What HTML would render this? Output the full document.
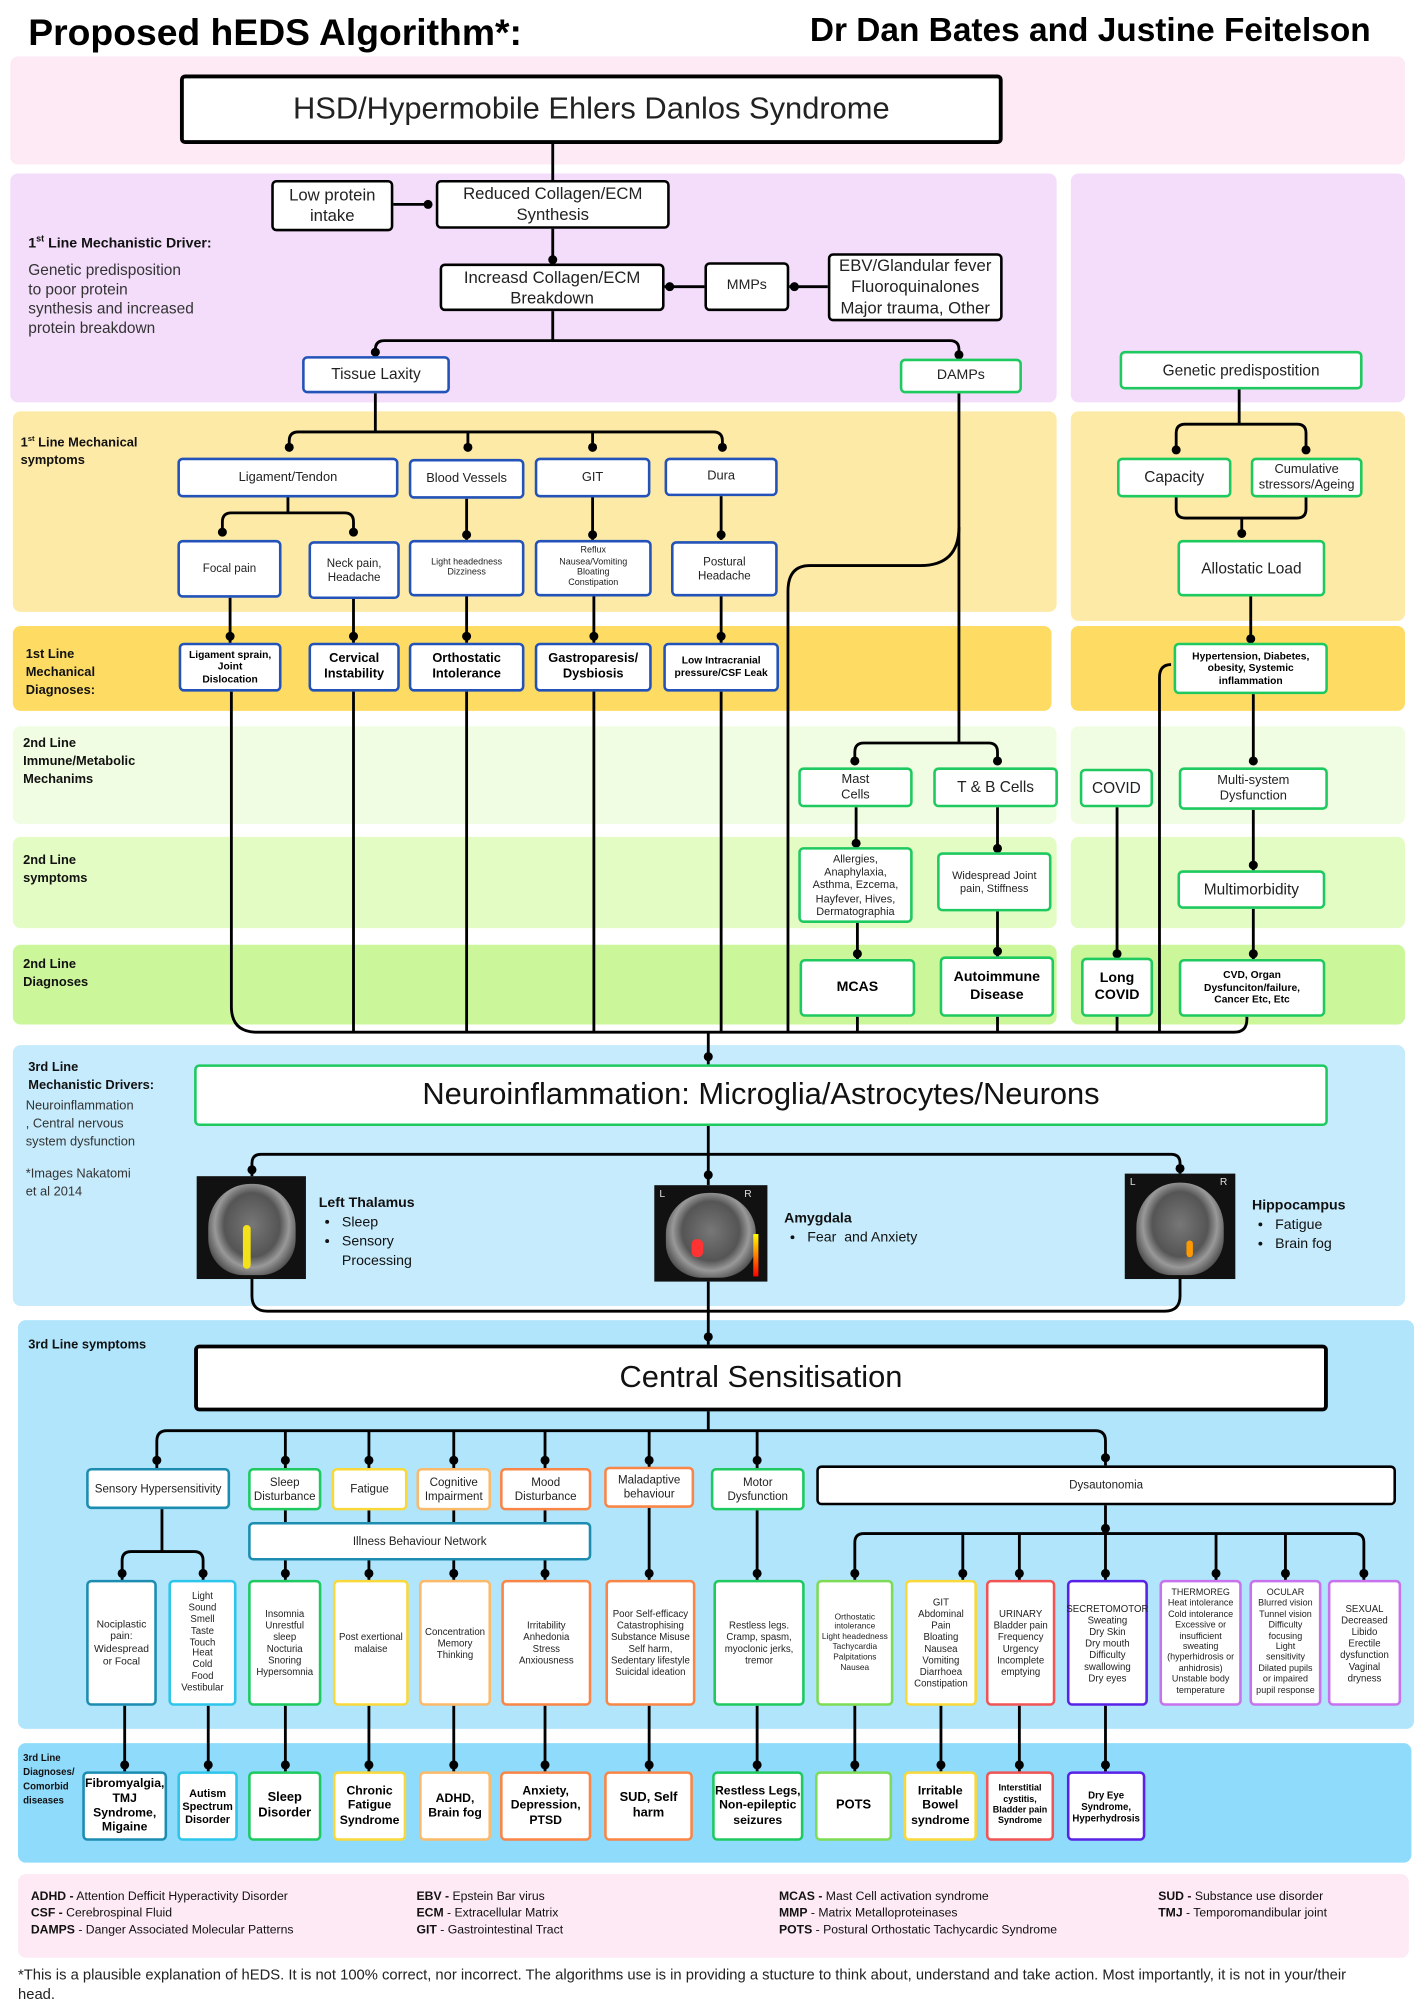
<!DOCTYPE html>
<html><head><meta charset="utf-8"><style>
html,body{margin:0;padding:0;background:#fff;}
body{width:1414px;height:2000px;overflow:hidden;position:relative;font-family:"Liberation Sans",sans-serif;}
#c{position:absolute;left:0;top:0;width:1100px;height:1556px;transform:scale(1.28545);transform-origin:0 0;}
.r{position:absolute;border-radius:6px;}
.b{position:absolute;box-sizing:border-box;display:flex;align-items:center;justify-content:center;text-align:center;background:#fff;border:2px solid #000;border-radius:4px;line-height:1.2;color:#222;}
.t{position:absolute;color:#111;line-height:1.25;}
.k{border-color:#000}
.bl{border-color:#2353b8}
.g{border-color:#1ec95f}
.tl{border-color:#1c8db0}
.cy{border-color:#2ec5ea}
.ye{border-color:#f8d83a}
.lo{border-color:#fbb96a}
.or{border-color:#f98546}
.lg{border-color:#7edb55}
.rd{border-color:#f05454}
.pu{border-color:#5a22e6}
.vi{border-color:#c872ee}
.brain{position:absolute;background:#111;overflow:hidden;}
.brain div{position:absolute;left:10%;top:8%;width:80%;height:88%;border-radius:48% 48% 40% 40%;background:radial-gradient(ellipse at 50% 45%,#777 0%,#555 45%,#999 60%,#444 80%,#222 100%);}
ul{margin:0;padding-left:18px;}
</style></head><body><div id="c">

<!-- bands -->
<div class="r" style="left:8px;top:44px;width:1085px;height:84px;background:#fdeaf4"></div>
<div class="r" style="left:8px;top:135px;width:814px;height:178px;background:#f3ddfa"></div>
<div class="r" style="left:833px;top:135px;width:260px;height:178px;background:#f3ddfa"></div>
<div class="r" style="left:10px;top:320px;width:812px;height:156px;background:#feeaa7"></div>
<div class="r" style="left:833px;top:320px;width:260px;height:163px;background:#feeaa7"></div>
<div class="r" style="left:10px;top:487px;width:808px;height:66px;background:#fedc63"></div>
<div class="r" style="left:833px;top:487px;width:260px;height:66px;background:#fedc63"></div>
<div class="r" style="left:10px;top:565px;width:812px;height:76px;background:#f1fde2"></div>
<div class="r" style="left:833px;top:565px;width:260px;height:76px;background:#f1fde2"></div>
<div class="r" style="left:10px;top:651px;width:812px;height:71px;background:#e3fcc3"></div>
<div class="r" style="left:833px;top:651px;width:260px;height:71px;background:#e3fcc3"></div>
<div class="r" style="left:10px;top:735px;width:812px;height:62px;background:#cbf79a"></div>
<div class="r" style="left:833px;top:735px;width:260px;height:62px;background:#cbf79a"></div>
<div class="r" style="left:10px;top:813px;width:1083px;height:203px;background:#c5ebfc"></div>
<div class="r" style="left:14px;top:1027px;width:1086px;height:318px;background:#b0e5fc"></div>
<div class="r" style="left:14px;top:1356px;width:1084px;height:93px;background:#8fdbfc"></div>
<div class="r" style="left:14px;top:1458px;width:1082px;height:65px;background:#fdeaf4"></div>

<!-- titles -->
<div class="t" style="left:22px;top:8px;font-size:29px;font-weight:bold;color:#000">Proposed hEDS Algorithm*:</div>
<div class="t" style="left:630px;top:7px;font-size:26px;font-weight:bold;color:#000">Dr Dan Bates and Justine Feitelson</div>

<!-- lines -->
<svg style="position:absolute;left:0;top:0" width="1100" height="1556" fill="none" stroke="#000" stroke-width="2.2">
<path d="M430 112V140M306 159H333M430 178V205M517 223H548M614 223H644M430 242V265"/>
<path d="M292 277V272Q292 265 299 265H739Q746 265 746 272V279"/>
<path d="M292 306V336M225 350V343Q225 336 232 336H555Q562 336 562 343V350M364 336V350M461 336V350"/>
<path d="M224 387V399M173 416V406Q173 399 180 399H268Q275 399 275 406V416M363 388V420M461 387V420M561 386V420"/>
<path d="M179 465V500M275 466V500M363 464V500M462 464V500M561 464V500"/>
<path d="M746 306V578M665 594V585Q665 578 672 578H769Q776 578 776 585V594"/>
<path d="M746 410Q746 440 716 440H630Q613 440 613 460V803"/>
<path d="M666 628V659M776 628V663M667 718V746M776 709V744M869 628V745"/>
<path d="M964 303V330M915 352V337Q915 330 922 330H1009Q1016 330 1016 337V352M915 387V396Q915 403 922 403H1009Q1016 403 1016 396V387M966 403V418"/>
<path d="M973 464V500M975 540V595M975 630V677M975 707V746M911 517Q902 517 902 527V803"/>
<path d="M180 538V783Q180 803 200 803H960Q970 803 970 793V791M275 538V803M363 538V803M462 538V803M561 538V803M667 791V803M776 791V803M869 791V803"/>
<path d="M551 803V828M551 876V898M196 915V905Q196 898 203 898H911Q918 898 918 905V913M551 898V922"/>
<path d="M196 995V1008Q196 1020 208 1020H906Q918 1020 918 1008V995M551 997V1046"/>
<path d="M551 1098V1113M122 1142V1121Q122 1113 130 1113H852Q860 1113 860 1121V1140M222 1113V1142M287 1113V1142M353 1113V1142M424 1113V1142M505 1113V1142M589 1113V1142"/>
<path d="M126 1174V1207M95 1229V1214Q95 1207 102 1207H151Q158 1207 158 1214V1229"/>
<path d="M222 1175V1184M287 1175V1184M353 1175V1184M424 1175V1184M222 1214V1229M287 1214V1229M353 1214V1229M424 1214V1229M505 1173V1229M589 1175V1229"/>
<path d="M860 1171V1193M665 1229V1200Q665 1193 672 1193H1054Q1061 1193 1061 1200V1229M749 1193V1229M793 1193V1229M860 1193V1229M946 1193V1229M1000 1193V1229"/>
<path d="M97 1327V1378M162 1327V1378M222 1327V1378M287 1327V1378M353 1327V1378M424 1327V1378M505 1327V1378M589 1327V1378M665 1327V1378M732 1327V1378M793 1327V1378M860 1327V1378"/>
<g fill="#000" stroke="none">
<circle cx="333" cy="159" r="3.5"/><circle cx="430" cy="202" r="3.5"/><circle cx="521" cy="223" r="3.5"/><circle cx="618" cy="223" r="3.5"/>
<circle cx="292" cy="274" r="3.5"/><circle cx="746" cy="276" r="3.5"/>
<circle cx="225" cy="348" r="3.5"/><circle cx="364" cy="348" r="3.5"/><circle cx="461" cy="348" r="3.5"/><circle cx="562" cy="348" r="3.5"/>
<circle cx="173" cy="414" r="3.5"/><circle cx="275" cy="414" r="3.5"/><circle cx="363" cy="416" r="3.5"/><circle cx="461" cy="416" r="3.5"/><circle cx="561" cy="416" r="3.5"/>
<circle cx="179" cy="495" r="3.5"/><circle cx="275" cy="495" r="3.5"/><circle cx="363" cy="495" r="3.5"/><circle cx="462" cy="495" r="3.5"/><circle cx="561" cy="495" r="3.5"/>
<circle cx="665" cy="592" r="3.5"/><circle cx="776" cy="592" r="3.5"/><circle cx="666" cy="656" r="3.5"/><circle cx="776" cy="660" r="3.5"/><circle cx="667" cy="742" r="3.5"/><circle cx="776" cy="740" r="3.5"/><circle cx="869" cy="742" r="3.5"/>
<circle cx="915" cy="350" r="3.5"/><circle cx="1016" cy="350" r="3.5"/><circle cx="966" cy="415" r="3.5"/><circle cx="973" cy="497" r="3.5"/><circle cx="975" cy="592" r="3.5"/><circle cx="975" cy="673" r="3.5"/><circle cx="975" cy="742" r="3.5"/>
<circle cx="551" cy="822" r="3.5"/><circle cx="196" cy="910" r="3.5"/><circle cx="551" cy="914" r="3.5"/><circle cx="918" cy="909" r="3.5"/><circle cx="551" cy="1040" r="3.5"/>
<circle cx="122" cy="1136" r="3.5"/><circle cx="222" cy="1136" r="3.5"/><circle cx="287" cy="1136" r="3.5"/><circle cx="353" cy="1136" r="3.5"/><circle cx="424" cy="1136" r="3.5"/><circle cx="505" cy="1136" r="3.5"/><circle cx="589" cy="1136" r="3.5"/><circle cx="860" cy="1134" r="3.5"/>
<circle cx="95" cy="1224" r="3.5"/><circle cx="158" cy="1224" r="3.5"/><circle cx="222" cy="1224" r="3.5"/><circle cx="287" cy="1224" r="3.5"/><circle cx="353" cy="1224" r="3.5"/><circle cx="424" cy="1224" r="3.5"/><circle cx="505" cy="1224" r="3.5"/><circle cx="589" cy="1224" r="3.5"/>
<circle cx="860" cy="1189" r="3.5"/><circle cx="665" cy="1224" r="3.5"/><circle cx="749" cy="1224" r="3.5"/><circle cx="793" cy="1224" r="3.5"/><circle cx="860" cy="1224" r="3.5"/><circle cx="946" cy="1224" r="3.5"/><circle cx="1000" cy="1224" r="3.5"/><circle cx="1061" cy="1224" r="3.5"/>
<circle cx="97" cy="1373" r="3.5"/><circle cx="162" cy="1373" r="3.5"/><circle cx="222" cy="1373" r="3.5"/><circle cx="287" cy="1373" r="3.5"/><circle cx="353" cy="1373" r="3.5"/><circle cx="424" cy="1373" r="3.5"/><circle cx="505" cy="1373" r="3.5"/><circle cx="589" cy="1373" r="3.5"/><circle cx="665" cy="1373" r="3.5"/><circle cx="732" cy="1373" r="3.5"/><circle cx="793" cy="1373" r="3.5"/><circle cx="860" cy="1373" r="3.5"/>
</g>
</svg>

<!-- top section -->
<div class="b k" style="left:140px;top:58px;width:640px;height:54px;font-size:24px;border-width:3px">HSD/Hypermobile Ehlers Danlos Syndrome</div>
<div class="b k" style="left:211px;top:140px;width:95px;height:40px;font-size:13px">Low protein<br>intake</div>
<div class="b k" style="left:339px;top:140px;width:182px;height:38px;font-size:13px">Reduced Collagen/ECM<br>Synthesis</div>
<div class="b k" style="left:342px;top:205px;width:175px;height:37px;font-size:13px">Increasd Collagen/ECM<br>Breakdown</div>
<div class="b k" style="left:548px;top:204px;width:66px;height:38px;font-size:11px">MMPs</div>
<div class="b k" style="left:644px;top:197px;width:136px;height:53px;font-size:13px;line-height:1.25">EBV/Glandular fever<br>Fluoroquinalones<br>Major trauma, Other</div>
<div class="t" style="left:22px;top:183px;font-size:11px;font-weight:bold">1<sup style="font-size:7px">st</sup> Line Mechanistic Driver:</div>
<div class="t" style="left:22px;top:203px;font-size:12px;line-height:15px;color:#333">Genetic predisposition<br>to poor protein<br>synthesis and increased<br>protein breakdown</div>
<div class="b bl" style="left:235px;top:277px;width:115px;height:29px;font-size:12px">Tissue Laxity</div>
<div class="b g" style="left:700px;top:279px;width:95px;height:27px;font-size:11px">DAMPs</div>
<div class="b g" style="left:871px;top:273px;width:189px;height:30px;font-size:12px">Genetic predispostition</div>

<!-- 1st line symptoms -->
<div class="t" style="left:16px;top:335px;font-size:10px;font-weight:bold;line-height:14px">1<sup style="font-size:6px">st</sup> Line Mechanical<br>symptoms</div>
<div class="b bl" style="left:138px;top:356px;width:172px;height:31px;font-size:10px">Ligament/Tendon</div>
<div class="b bl" style="left:318px;top:357px;width:90px;height:31px;font-size:10px">Blood Vessels</div>
<div class="b bl" style="left:416px;top:356px;width:90px;height:31px;font-size:10px">GIT</div>
<div class="b bl" style="left:517px;top:356px;width:88px;height:30px;font-size:10px">Dura</div>
<div class="b bl" style="left:138px;top:420px;width:81px;height:45px;font-size:9px">Focal pain</div>
<div class="b bl" style="left:240px;top:421px;width:71px;height:45px;font-size:9px">Neck pain,<br>Headache</div>
<div class="b bl" style="left:318px;top:420px;width:90px;height:44px;font-size:7px">Light headedness<br>Dizziness</div>
<div class="b bl" style="left:416px;top:420px;width:91px;height:44px;font-size:7px">Reflux<br>Nausea/Vomiting<br>Bloating<br>Constipation</div>
<div class="b bl" style="left:522px;top:421px;width:83px;height:43px;font-size:9px">Postural<br>Headache</div>
<div class="b g" style="left:869px;top:356px;width:89px;height:31px;font-size:12px">Capacity</div>
<div class="b g" style="left:973px;top:356px;width:87px;height:31px;font-size:10px">Cumulative<br>stressors/Ageing</div>
<div class="b g" style="left:916px;top:420px;width:115px;height:44px;font-size:12px">Allostatic Load</div>

<!-- 1st line diagnoses -->
<div class="t" style="left:20px;top:503px;font-size:10px;font-weight:bold;line-height:14px">1st Line<br>Mechanical<br>Diagnoses:</div>
<div class="b bl" style="left:139px;top:500px;width:80px;height:38px;font-size:8px;font-weight:bold;color:#000">Ligament sprain,<br>Joint<br>Dislocation</div>
<div class="b bl" style="left:240px;top:500px;width:71px;height:38px;font-size:10px;font-weight:bold;color:#000">Cervical<br>Instability</div>
<div class="b bl" style="left:318px;top:500px;width:90px;height:38px;font-size:10px;font-weight:bold;color:#000">Orthostatic<br>Intolerance</div>
<div class="b bl" style="left:416px;top:500px;width:91px;height:38px;font-size:10px;font-weight:bold;color:#000">Gastroparesis/<br>Dysbiosis</div>
<div class="b bl" style="left:516px;top:500px;width:90px;height:38px;font-size:8px;font-weight:bold;color:#000">Low Intracranial<br>pressure/CSF Leak</div>
<div class="b g" style="left:913px;top:500px;width:120px;height:40px;font-size:8px;font-weight:bold;color:#000">Hypertension, Diabetes,<br>obesity, Systemic<br>inflammation</div>

<!-- 2nd line -->
<div class="t" style="left:18px;top:572px;font-size:10px;font-weight:bold;line-height:14px">2nd Line<br>Immune/Metabolic<br>Mechanims</div>
<div class="t" style="left:18px;top:663px;font-size:10px;font-weight:bold;line-height:14px">2nd Line<br>symptoms</div>
<div class="t" style="left:18px;top:744px;font-size:10px;font-weight:bold;line-height:14px">2nd Line<br>Diagnoses</div>
<div class="b g" style="left:621px;top:597px;width:89px;height:31px;font-size:10px">Mast<br>Cells</div>
<div class="b g" style="left:726px;top:597px;width:97px;height:31px;font-size:12px">T &amp; B Cells</div>
<div class="b g" style="left:840px;top:598px;width:57px;height:30px;font-size:12px">COVID</div>
<div class="b g" style="left:917px;top:597px;width:116px;height:33px;font-size:10px">Multi-system<br>Dysfunction</div>
<div class="b g" style="left:621px;top:659px;width:89px;height:59px;font-size:8.5px">Allergies,<br>Anaphylaxia,<br>Asthma, Ezcema,<br>Hayfever, Hives,<br>Dermatographia</div>
<div class="b g" style="left:729px;top:663px;width:89px;height:46px;font-size:8.5px">Widespread Joint<br>pain, Stiffness</div>
<div class="b g" style="left:916px;top:677px;width:115px;height:30px;font-size:12px">Multimorbidity</div>
<div class="b g" style="left:622px;top:746px;width:90px;height:45px;font-size:11px;font-weight:bold;color:#000">MCAS</div>
<div class="b g" style="left:731px;top:744px;width:89px;height:47px;font-size:11px;font-weight:bold;color:#000">Autoimmune<br>Disease</div>
<div class="b g" style="left:841px;top:745px;width:56px;height:46px;font-size:11px;font-weight:bold;color:#000">Long<br>COVID</div>
<div class="b g" style="left:917px;top:746px;width:114px;height:45px;font-size:8px;font-weight:bold;color:#000">CVD, Organ<br>Dysfunciton/failure,<br>Cancer Etc, Etc</div>

<!-- 3rd line mechanistic -->
<div class="t" style="left:22px;top:824px;font-size:10px;font-weight:bold;line-height:14px">3rd Line<br>Mechanistic Drivers:</div>
<div class="t" style="left:20px;top:854px;font-size:10px;line-height:14px;color:#333">Neuroinflammation<br>, Central nervous<br>system dysfunction</div>
<div class="t" style="left:20px;top:907px;font-size:10px;line-height:14px;color:#333">*Images Nakatomi<br>et al 2014</div>
<div class="b g" style="left:151px;top:828px;width:882px;height:48px;font-size:24px;color:#111">Neuroinflammation: Microglia/Astrocytes/Neurons</div>
<div class="brain" style="left:153px;top:915px;width:85px;height:80px"><div></div><span style="position:absolute;left:36px;top:38px;width:6px;height:34px;background:#f5e11a;border-radius:3px"></span></div>
<div class="brain" style="left:509px;top:922px;width:88px;height:75px"><div></div><span style="position:absolute;left:29px;top:42px;width:9px;height:14px;background:#f33;border-radius:4px"></span><span style="position:absolute;left:77px;top:38px;width:4px;height:33px;background:linear-gradient(#ff0,#f00)"></span><span style="position:absolute;left:4px;top:2px;color:#ddd;font-size:8px">L</span><span style="position:absolute;left:70px;top:2px;color:#ddd;font-size:8px">R</span></div>
<div class="brain" style="left:875px;top:913px;width:86px;height:82px"><div></div><span style="position:absolute;left:48px;top:52px;width:5px;height:13px;background:#f90;border-radius:3px"></span><span style="position:absolute;left:4px;top:2px;color:#ddd;font-size:8px">L</span><span style="position:absolute;left:74px;top:2px;color:#ddd;font-size:8px">R</span></div>
<div class="t" style="left:248px;top:929px;font-size:11px;line-height:15px"><b>Left Thalamus</b><ul><li>Sleep</li><li>Sensory<br>Processing</li></ul></div>
<div class="t" style="left:610px;top:941px;font-size:11px;line-height:15px"><b>Amygdala</b><ul><li>Fear &nbsp;and Anxiety</li></ul></div>
<div class="t" style="left:974px;top:931px;font-size:11px;line-height:15px"><b>Hippocampus</b><ul><li>Fatigue</li><li>Brain fog</li></ul></div>

<!-- 3rd line symptoms -->
<div class="t" style="left:22px;top:1041px;font-size:10px;font-weight:bold">3rd Line symptoms</div>
<div class="b k" style="left:151px;top:1046px;width:882px;height:52px;font-size:24px;color:#111;border-width:3px">Central Sensitisation</div>
<div class="b tl" style="left:67px;top:1142px;width:112px;height:32px;font-size:9px">Sensory Hypersensitivity</div>
<div class="b g" style="left:193px;top:1142px;width:57px;height:33px;font-size:9px">Sleep<br>Disturbance</div>
<div class="b ye" style="left:258px;top:1142px;width:59px;height:33px;font-size:9px">Fatigue</div>
<div class="b lo" style="left:324px;top:1142px;width:58px;height:33px;font-size:9px">Cognitive<br>Impairment</div>
<div class="b or" style="left:389px;top:1142px;width:71px;height:33px;font-size:9px">Mood<br>Disturbance</div>
<div class="b or" style="left:470px;top:1141px;width:70px;height:32px;font-size:9px">Maladaptive<br>behaviour</div>
<div class="b g" style="left:553px;top:1142px;width:73px;height:33px;font-size:9px">Motor<br>Dysfunction</div>
<div class="b k" style="left:635px;top:1140px;width:451px;height:31px;font-size:9px">Dysautonomia</div>
<div class="b tl" style="left:193px;top:1184px;width:267px;height:30px;font-size:9px">Illness Behaviour Network</div>

<div class="b tl" style="left:67px;top:1229px;width:55px;height:98px;font-size:8px">Nociplastic<br>pain:<br>Widespread<br>or Focal</div>
<div class="b cy" style="left:131px;top:1229px;width:53px;height:98px;font-size:7.5px;line-height:1.18">Light<br>Sound<br>Smell<br>Taste<br>Touch<br>Heat<br>Cold<br>Food<br>Vestibular</div>
<div class="b g" style="left:193px;top:1229px;width:57px;height:98px;font-size:7.5px">Insomnia<br>Unrestful<br>sleep<br>Nocturia<br>Snoring<br>Hypersomnia</div>
<div class="b ye" style="left:259px;top:1229px;width:59px;height:98px;font-size:7.5px">Post exertional<br>malaise</div>
<div class="b lo" style="left:326px;top:1229px;width:56px;height:98px;font-size:7.5px">Concentration<br>Memory<br>Thinking</div>
<div class="b or" style="left:390px;top:1229px;width:70px;height:98px;font-size:7.5px">Irritability<br>Anhedonia<br>Stress<br>Anxiousness</div>
<div class="b or" style="left:471px;top:1229px;width:70px;height:98px;font-size:7.5px">Poor Self-efficacy<br>Catastrophising<br>Substance Misuse<br>Self harm,<br>Sedentary lifestyle<br>Suicidal ideation</div>
<div class="b g" style="left:555px;top:1229px;width:71px;height:98px;font-size:7.5px">Restless legs.<br>Cramp, spasm,<br>myoclonic jerks,<br>tremor</div>
<div class="b lg" style="left:635px;top:1229px;width:60px;height:98px;font-size:6.5px">Orthostatic<br>intolerance<br>Light headedness<br>Tachycardia<br>Palpitations<br>Nausea</div>
<div class="b ye" style="left:704px;top:1229px;width:56px;height:98px;font-size:7.5px">GIT<br>Abdominal<br>Pain<br>Bloating<br>Nausea<br>Vomiting<br>Diarrhoea<br>Constipation</div>
<div class="b rd" style="left:767px;top:1229px;width:54px;height:98px;font-size:7.5px">URINARY<br>Bladder pain<br>Frequency<br>Urgency<br>Incomplete<br>emptying</div>
<div class="b pu" style="left:830px;top:1229px;width:63px;height:98px;font-size:7.5px">SECRETOMOTOR<br>Sweating<br>Dry Skin<br>Dry mouth<br>Difficulty<br>swallowing<br>Dry eyes</div>
<div class="b vi" style="left:902px;top:1229px;width:64px;height:98px;font-size:7px">THERMOREG<br>Heat intolerance<br>Cold intolerance<br>Excessive or<br>insufficient<br>sweating<br>(hyperhidrosis or<br>anhidrosis)<br>Unstable body<br>temperature</div>
<div class="b vi" style="left:972px;top:1229px;width:56px;height:98px;font-size:7px">OCULAR<br>Blurred vision<br>Tunnel vision<br>Difficulty<br>focusing<br>Light<br>sensitivity<br>Dilated pupils<br>or impaired<br>pupil response</div>
<div class="b vi" style="left:1033px;top:1229px;width:57px;height:98px;font-size:7.5px">SEXUAL<br>Decreased<br>Libido<br>Erectile<br>dysfunction<br>Vaginal<br>dryness</div>

<!-- 3rd line diagnoses -->
<div class="t" style="left:18px;top:1362px;font-size:7.5px;font-weight:bold;line-height:11px">3rd Line<br>Diagnoses/<br>Comorbid<br>diseases</div>
<div class="b tl" style="left:64px;top:1378px;width:66px;height:54px;font-size:9.5px;font-weight:bold;color:#000">Fibromyalgia,<br>TMJ<br>Syndrome,<br>Migaine</div>
<div class="b cy" style="left:138px;top:1378px;width:47px;height:54px;font-size:8.5px;font-weight:bold;color:#000">Autism<br>Spectrum<br>Disorder</div>
<div class="b g" style="left:193px;top:1378px;width:57px;height:54px;font-size:10px;font-weight:bold;color:#000">Sleep<br>Disorder</div>
<div class="b ye" style="left:259px;top:1378px;width:57px;height:54px;font-size:9.5px;font-weight:bold;color:#000">Chronic<br>Fatigue<br>Syndrome</div>
<div class="b lo" style="left:326px;top:1378px;width:56px;height:54px;font-size:9.5px;font-weight:bold;color:#000">ADHD,<br>Brain fog</div>
<div class="b or" style="left:389px;top:1378px;width:71px;height:54px;font-size:9.5px;font-weight:bold;color:#000">Anxiety,<br>Depression,<br>PTSD</div>
<div class="b or" style="left:470px;top:1378px;width:69px;height:54px;font-size:10px;font-weight:bold;color:#000">SUD, Self<br>harm</div>
<div class="b g" style="left:554px;top:1378px;width:71px;height:54px;font-size:9.5px;font-weight:bold;color:#000">Restless Legs,<br>Non-epileptic<br>seizures</div>
<div class="b lg" style="left:634px;top:1378px;width:60px;height:54px;font-size:10px;font-weight:bold;color:#000">POTS</div>
<div class="b ye" style="left:703px;top:1378px;width:57px;height:54px;font-size:9.5px;font-weight:bold;color:#000">Irritable<br>Bowel<br>syndrome</div>
<div class="b rd" style="left:767px;top:1378px;width:53px;height:54px;font-size:7px;font-weight:bold;color:#000">Interstitial<br>cystitis,<br>Bladder pain<br>Syndrome</div>
<div class="b pu" style="left:830px;top:1378px;width:61px;height:54px;font-size:7.5px;font-weight:bold;color:#000">Dry Eye<br>Syndrome,<br>Hyperhydrosis</div>

<!-- legend -->
<div class="t" style="left:24px;top:1469px;font-size:9.5px;line-height:13px"><b>ADHD -</b> Attention Defficit Hyperactivity Disorder<br><b>CSF -</b> Cerebrospinal Fluid<br><b>DAMPS</b> - Danger Associated Molecular Patterns</div>
<div class="t" style="left:324px;top:1469px;font-size:9.5px;line-height:13px"><b>EBV -</b> Epstein Bar virus<br><b>ECM</b> - Extracellular Matrix<br><b>GIT</b> - Gastrointestinal Tract</div>
<div class="t" style="left:606px;top:1469px;font-size:9.5px;line-height:13px"><b>MCAS -</b> Mast Cell activation syndrome<br><b>MMP</b> - Matrix Metalloproteinases<br><b>POTS</b> - Postural Orthostatic Tachycardic Syndrome</div>
<div class="t" style="left:901px;top:1469px;font-size:9.5px;line-height:13px"><b>SUD -</b> Substance use disorder<br><b>TMJ</b> - Temporomandibular joint</div>
<div class="t" style="left:14px;top:1530px;font-size:11.5px;line-height:15px;width:1060px;color:#222">*This is a plausible explanation of hEDS. It is not 100% correct, nor incorrect. The algorithms use is in providing a stucture to think about, understand and take action. Most importantly, it is not in your/their head.</div>

</div></body></html>
